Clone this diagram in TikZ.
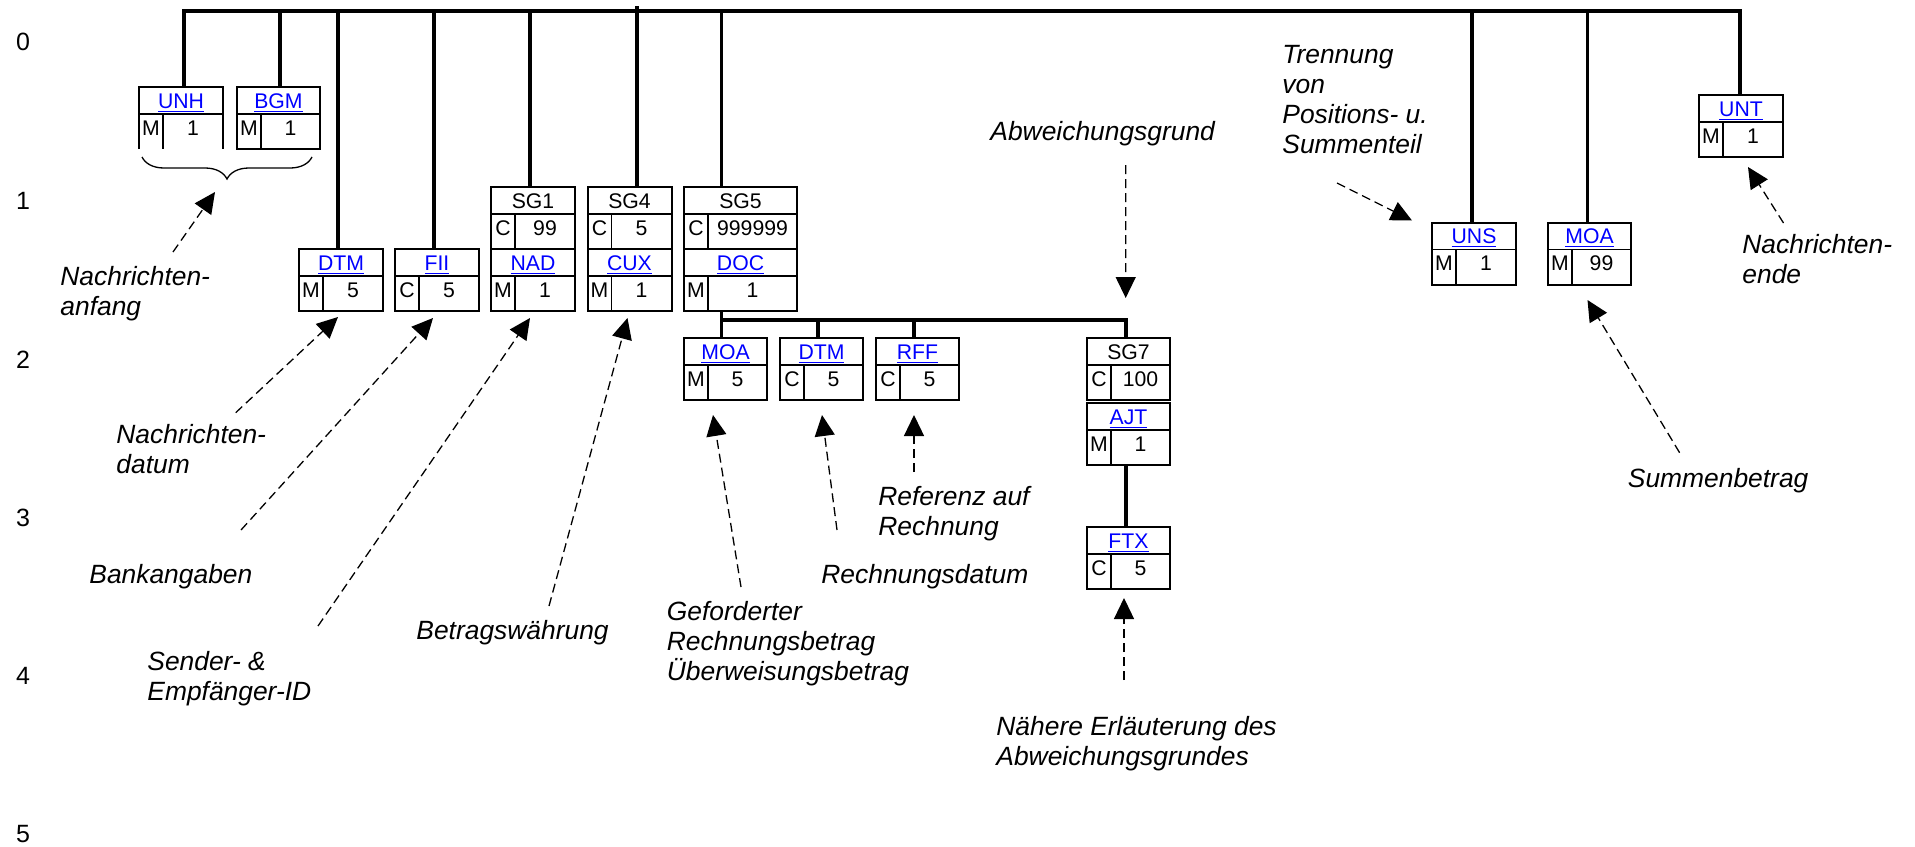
\documentclass[tikz,border=0pt]{standalone}
\usepackage{fontspec}
\setmainfont{Liberation Sans}
\usetikzlibrary{arrows.meta,calc,decorations.pathreplacing}
\definecolor{linkblue}{RGB}{0,0,255}
\newcommand\lnk[1]{\textcolor{linkblue}{\underline{#1}}}
\newcommand\mlines[1]{\vtop{\baselineskip=15pt\halign{##\hfil\cr#1\crcr}}}
% \segbox[node opts]{name}{x}{y}{w}{header}{status}{rep}
\newcommand\segbox[8][]{%
  \node[segframe,minimum width={#5*0.5pt},anchor=north west,#1] (#2) at (#3,#4) {};
  \draw[innerline] ($(#2.north west)+(0,27)$) -- ($(#2.north east)+(0,27)$);
  \draw[innerline] ($(#2.north west)+(24,27)$) -- ($(#2.south west)+(24,0)$);
  \node[boxtext] at ($(#2.north)+(0,21.3)$) {#6};
  \node[boxtext] at ($(#2.north west)+(12,48)$) {#7};
  \node[boxtext] at ($(#2.north)+(12,48)$) {#8};
}
\begin{document}
\begin{tikzpicture}[x=0.5pt,y=-0.5pt,
  segframe/.style={draw,line width=1pt,minimum height=31pt,inner sep=0pt,outer sep=0pt},
  innerline/.style={line width=0.55pt},
  sepline/.style={line width=1.4pt},
  boxtext/.style={font=\fontsize{10.6}{12}\selectfont,inner sep=0pt,anchor=base},
  conn/.style={line width=1.65pt},
  lab/.style={font=\fontsize{13.2}{15}\selectfont\itshape,inner sep=0pt,anchor=base west},
  rownum/.style={font=\fontsize{12.5}{14}\selectfont,inner sep=0pt},
  darr/.style={line width=0.65pt,dash pattern=on 4.5pt off 2.5pt,-{Triangle[length=10.5pt,width=10pt]}}]
\useasboundingbox (0,0) rectangle (1915,846);

% row numbers
\foreach \i/\y in {0/42,1/201,2/359.5,3/518,4/676,5/834}
  \node[rownum] (row\i) at (23,\y) {\i};

% segment boxes
\segbox[draw=none]{unh}{139}{87}{84}{\lnk{UNH}}{M}{1}
\draw[line width=1pt] (unh.south west) -- (unh.north west) -- (unh.north east) -- (unh.south east);
\segbox{bgm}{237}{87}{83}{\lnk{BGM}}{M}{1}
\segbox{dtm}{299}{249}{84}{\lnk{DTM}}{M}{5}
\segbox{fii}{395}{249}{84}{\lnk{FII}}{C}{5}
\segbox{sg1}{491}{187}{84}{SG1}{C}{99}
\segbox{nad}{491}{249}{84}{\lnk{NAD}}{M}{1}
\segbox{sg4}{587.5}{187}{84}{SG4}{C}{5}
\segbox{cux}{587.5}{249}{84}{\lnk{CUX}}{M}{1}
\segbox{sg5}{684}{187}{113}{SG5}{C}{999999}
\segbox{doc}{684}{249}{113}{\lnk{DOC}}{M}{1}
\draw[sepline] (nad.north west) -- (nad.north east);
\draw[sepline] (cux.north west) -- (cux.north east);
\draw[sepline] (doc.north west) -- (doc.north east);
\segbox{moa}{684}{338}{83}{\lnk{MOA}}{M}{5}
\segbox{dtmb}{780}{338}{83}{\lnk{DTM}}{C}{5}
\segbox{rff}{876}{338}{83}{\lnk{RFF}}{C}{5}
\segbox{sg7}{1087}{338}{83}{SG7}{C}{100}
\segbox{ajt}{1087}{403}{83}{\lnk{AJT}}{M}{1}
\segbox{ftx}{1087}{527}{83}{\lnk{FTX}}{C}{5}
\segbox{uns}{1432}{222.5}{84}{\lnk{UNS}}{M}{1}
\segbox{moab}{1548}{222.5}{83}{\lnk{MOA}}{M}{99}
\segbox{unt}{1699}{95}{84}{\lnk{UNT}}{M}{1}

% trunk
\coordinate (tL) at (184,11);
\coordinate (tR) at (1740,11);
\coordinate (t-bgm) at (280,11);
\coordinate (t-dtm) at (338,11);
\coordinate (t-fii) at (434,11);
\coordinate (t-sg1) at (530,11);
\coordinate (t-sg4) at (637,11);
\coordinate (t-sg5) at (721.7,11);
\coordinate (t-uns) at (1472,11);
\coordinate (t-moab) at (1587.6,11);
\draw[conn] (tL |- unh.north) -- (tL) -- (tR) -- (tR |- unt.north);
\foreach \n in {bgm,dtm,fii,sg1,sg5,uns,moab}
  \draw[conn] (t-\n) -- (t-\n |- \n.north);
\draw[conn] ($(t-sg4)+(0,-5)$) -- (t-sg4 |- sg4.north);

% SG5 branch
\coordinate (bL) at (721.7,320);
\coordinate (bR) at (1126,320);
\coordinate (b-dtmb) at (818,320);
\coordinate (b-rff) at (914,320);
\draw[conn] (bL |- doc.south) -- (bL) -- (bR) -- (bR |- sg7.north);
\draw[conn] (bL) -- (bL |- moa.north);
\draw[conn] (b-dtmb) -- (b-dtmb |- dtmb.north);
\draw[conn] (b-rff) -- (b-rff |- rff.north);
\draw[conn] (bR |- ajt.south) -- (bR |- ftx.north);

% brace
\draw[line width=0.65pt,decorate,decoration={brace,mirror,amplitude=11pt}] (142,157) -- (312,157);
\coordinate (brtip) at (227,179);

% labels
\node[lab] (l-anfang) at (60,285) {\mlines{Nachrichten-\cr anfang}};
\node[lab] (l-datum) at (116,443) {\mlines{Nachrichten-\cr datum}};
\node[lab] (l-bank) at (89,583) {Bankangaben};
\node[lab] (l-sender) at (147,670) {\mlines{Sender- \&\cr Empfänger-ID}};
\node[lab] (l-waehr) at (416,639) {Betragswährung};
\node[lab] (l-gef) at (666.5,620) {\mlines{Geforderter\cr Rechnungsbetrag\cr Überweisungsbetrag}};
\node[lab] (l-rdat) at (821,583) {Rechnungsdatum};
\node[lab] (l-ref) at (878,505) {\mlines{Referenz auf\cr Rechnung}};
\node[lab] (l-naeh) at (996,735) {\mlines{Nähere Erläuterung des\cr Abweichungsgrundes}};
\node[lab] (l-abw) at (990,140) {Abweichungsgrund};
\node[lab] (l-trenn) at (1282,63) {\mlines{Trennung\cr von\cr Positions- u.\cr Summenteil}};
\node[lab] (l-ende) at (1742,253) {\mlines{Nachrichten-\cr ende}};
\node[lab] (l-summe) at (1627.5,487) {Summenbetrag};

% arrow tails
\coordinate (a-anfang) at (173,252);
\coordinate (a-datum) at (235.7,412.7);
\coordinate (a-bank) at (241,530);
\coordinate (a-sender) at (318,626);
\coordinate (a-waehr) at (549,606);
\coordinate (a-gef) at (741,587);
\coordinate (a-rdat) at (837,530);
\coordinate (a-ref) at (914,472);
\coordinate (a-abw) at (1125.7,165);
\coordinate (a-naeh) at (1124,680);
\coordinate (a-trenn) at (1337,183);
\coordinate (a-ende) at (1783.5,223);
\coordinate (a-summe) at (1679.6,452.7);

% arrows
\draw[darr] (a-anfang) -- ($(brtip)+(-12,13)$);
\draw[darr] (a-datum) -- ($(dtm.south)+(-3,6)$);
\draw[darr] (a-bank) -- ($(fii.south)+(-4,7)$);
\draw[darr] (a-sender) -- ($(nad.south)+(-3,7)$);
\draw[darr] (a-waehr) -- ($(cux.south)+(-2,7)$);
\draw[darr] (a-gef) -- ($(moa.south)+(-12.5,15)$);
\draw[darr] (a-rdat) -- ($(dtmb.south)+(0.5,15)$);
\draw[darr] (a-ref) -- ($(rff.south)+(-3.5,15)$);
\draw[darr] (a-abw) -- ($(sg7.north)+(-2.8,-40)$);
\draw[darr] (a-naeh) -- ($(ftx.south)+(-4.5,9)$);
\draw[darr] (a-trenn) -- ($(uns.north west)+(-20,-2)$);
\draw[darr] (a-ende) -- ($(unt.south)+(7,10)$);
\draw[darr] (a-summe) -- ($(moab.south)+(-2,15.5)$);
\end{tikzpicture}
\end{document}
